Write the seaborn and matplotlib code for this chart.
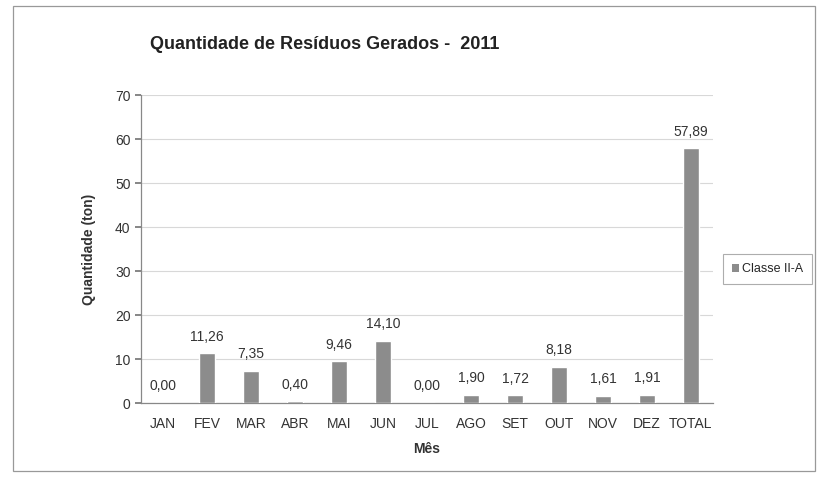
import matplotlib
matplotlib.use("Agg")
import matplotlib.pyplot as plt
import pandas as pd
import seaborn as sns
from matplotlib.patches import Patch, Rectangle

months = ["JAN", "FEV", "MAR", "ABR", "MAI", "JUN", "JUL", "AGO", "SET", "OUT", "NOV", "DEZ", "TOTAL"]
quantities = [0.00, 11.26, 7.35, 0.40, 9.46, 14.10, 0.00, 1.90, 1.72, 8.18, 1.61, 1.91, 57.89]
series_name = "Classe II-A"
y_ticks = [0, 10, 20, 30, 40, 50, 60, 70]

df = pd.DataFrame({"mes": months, "quantidade": quantities})

sns.set_theme(style="white")
plt.rcParams["font.family"] = ["Liberation Sans", "DejaVu Sans"]

fig = plt.figure(figsize=(8.2, 4.83), dpi=100)
ax = fig.add_axes([0.172, 0.1656, 0.6975, 0.6377])

bar_color = "#8c8c8c"
sns.barplot(data=df, x="mes", y="quantidade", color=bar_color, width=0.36,
            saturation=1, ax=ax, zorder=3)

for i, v in enumerate(quantities):
    ax.text(i, v + 2.2, f"{v:.2f}".replace(".", ","), ha="center", va="bottom",
            fontsize=10, color="#333333")

ax.set_ylim(0, 70)
ax.set_xlim(-0.5, len(months) - 0.5)
ax.set_yticks(y_ticks)
ax.yaxis.grid(True, color="#d8d8d8", linewidth=0.8, zorder=0)
ax.set_axisbelow(True)

# Excel-style ticks between categories
ax.set_xticks(range(len(months)))
ax.set_xticklabels(months)
ax.set_xticks([i - 0.5 for i in range(len(months) + 1)], minor=True)
ax.tick_params(axis="x", which="major", length=0, labelsize=10, colors="#333333", pad=10)
ax.tick_params(axis="x", which="minor", length=4, color="#777777", direction="out")
ax.tick_params(axis="y", length=4, color="#777777", labelsize=10, labelcolor="#333333",
               direction="out", left=True)

for side in ["top", "right"]:
    ax.spines[side].set_visible(False)
for side in ["left", "bottom"]:
    ax.spines[side].set_color("#888888")
    ax.spines[side].set_linewidth(0.9)

ax.set_xlabel("Mês", fontsize=10, fontweight="bold", color="#333333", labelpad=8)
ax.set_ylabel("Quantidade (ton)", fontsize=10, fontweight="bold", color="#333333", labelpad=14)

fig.text(0.183, 0.908, "Quantidade de Resíduos Gerados -  2011", ha="left", va="center",
         fontsize=13, fontweight="bold", color="#222222")

leg = fig.legend(handles=[Patch(facecolor=bar_color, edgecolor="none", label=series_name)],
                 loc="center left", bbox_to_anchor=(0.874, 0.443), frameon=True,
                 fontsize=9, handlelength=0.6, handleheight=0.6, handletextpad=0.2,
                 borderpad=0.7, fancybox=False)
leg.get_frame().set_edgecolor("#999999")
leg.get_frame().set_linewidth(0.8)

fig.patches.append(Rectangle((0.016, 0.025), 0.978, 0.963, transform=fig.transFigure,
                             fill=False, edgecolor="#999999", linewidth=0.9))

fig.savefig("out.png", dpi=100)
